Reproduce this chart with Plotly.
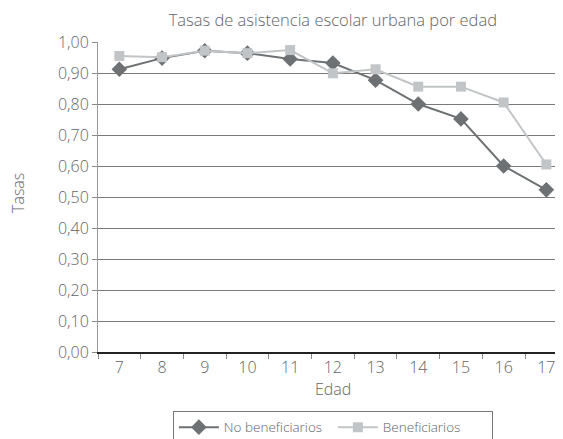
import plotly.graph_objects as go

edades = ["7", "8", "9", "10", "11", "12", "13", "14", "15", "16", "17"]
no_beneficiarios = [0.912, 0.948, 0.972, 0.964, 0.945, 0.932, 0.877, 0.800, 0.752, 0.600, 0.523]
beneficiarios = [0.955, 0.951, 0.972, 0.964, 0.974, 0.899, 0.912, 0.856, 0.856, 0.805, 0.605]
y_ticks = [0.0, 0.1, 0.2, 0.3, 0.4, 0.5, 0.6, 0.7, 0.8, 0.9, 1.0]

FONT = "Open Sans"
TXT = "#626466"
W = 300

fig = go.Figure()
fig.add_trace(go.Scatter(
    x=edades, y=no_beneficiarios, name="No beneficiarios", mode="lines+markers",
    line=dict(color="#6d7173", width=2),
    marker=dict(symbol="diamond", size=12, color="#6d7173"),
))
fig.add_trace(go.Scatter(
    x=edades, y=beneficiarios, name="Beneficiarios", mode="lines+markers",
    line=dict(color="#c2c5c7", width=2),
    marker=dict(symbol="square", size=10, color="#c2c5c7"),
))

fig.update_layout(
    width=555, height=431,
    margin=dict(l=90, r=0, t=34, b=87, autoexpand=False),
    paper_bgcolor="white", plot_bgcolor="white",
    separators=",.",
    font=dict(family=FONT, color=TXT, size=14, weight=W),
    title=dict(text="Tasas de asistencia escolar urbana por edad",
               x=0.505, xref="paper", xanchor="center", y=0.972, yanchor="middle",
               font=dict(size=16.5, color=TXT, family=FONT, weight=W)),
    showlegend=True,
    legend=dict(orientation="h", x=0.161, xanchor="left", y=-0.19, yanchor="top",
                bordercolor="#777777", borderwidth=1,
                font=dict(size=13.5, color=TXT, family=FONT, weight=W),
                itemwidth=40, entrywidth=104),
    xaxis=dict(
        type="category", range=[-0.5, 10.39], automargin=False,
        tickson="boundaries", ticks="outside", ticklen=5, tickcolor="#888888",
        showline=True, linecolor="#222222", linewidth=1.5,
        showgrid=False, zeroline=False,
        tickfont=dict(size=16, color=TXT, family=FONT, weight=W),
    ),
    yaxis=dict(
        range=[0, 1.0], tickvals=y_ticks, tickformat=".2f", automargin=False,
        ticks="outside", ticklen=5, tickcolor="#888888",
        showline=True, linecolor="#999999", linewidth=1,
        showgrid=True, gridcolor="#7a7a7a", gridwidth=1,
        zeroline=False,
        tickfont=dict(size=16, color=TXT, family=FONT, weight=W),
    ),
    annotations=[
        dict(text="Tasas", xref="paper", yref="paper",
             x=-0.172, y=0.513, xanchor="center", yanchor="middle",
             textangle=-90, showarrow=False,
             font=dict(size=16, color=TXT, family=FONT, weight=W)),
        dict(text="Edad", xref="paper", yref="paper",
             x=0.505, y=-0.119, xanchor="center", yanchor="middle",
             showarrow=False,
             font=dict(size=16, color=TXT, family=FONT, weight=W)),
    ],
)

fig.write_html("out.html")
